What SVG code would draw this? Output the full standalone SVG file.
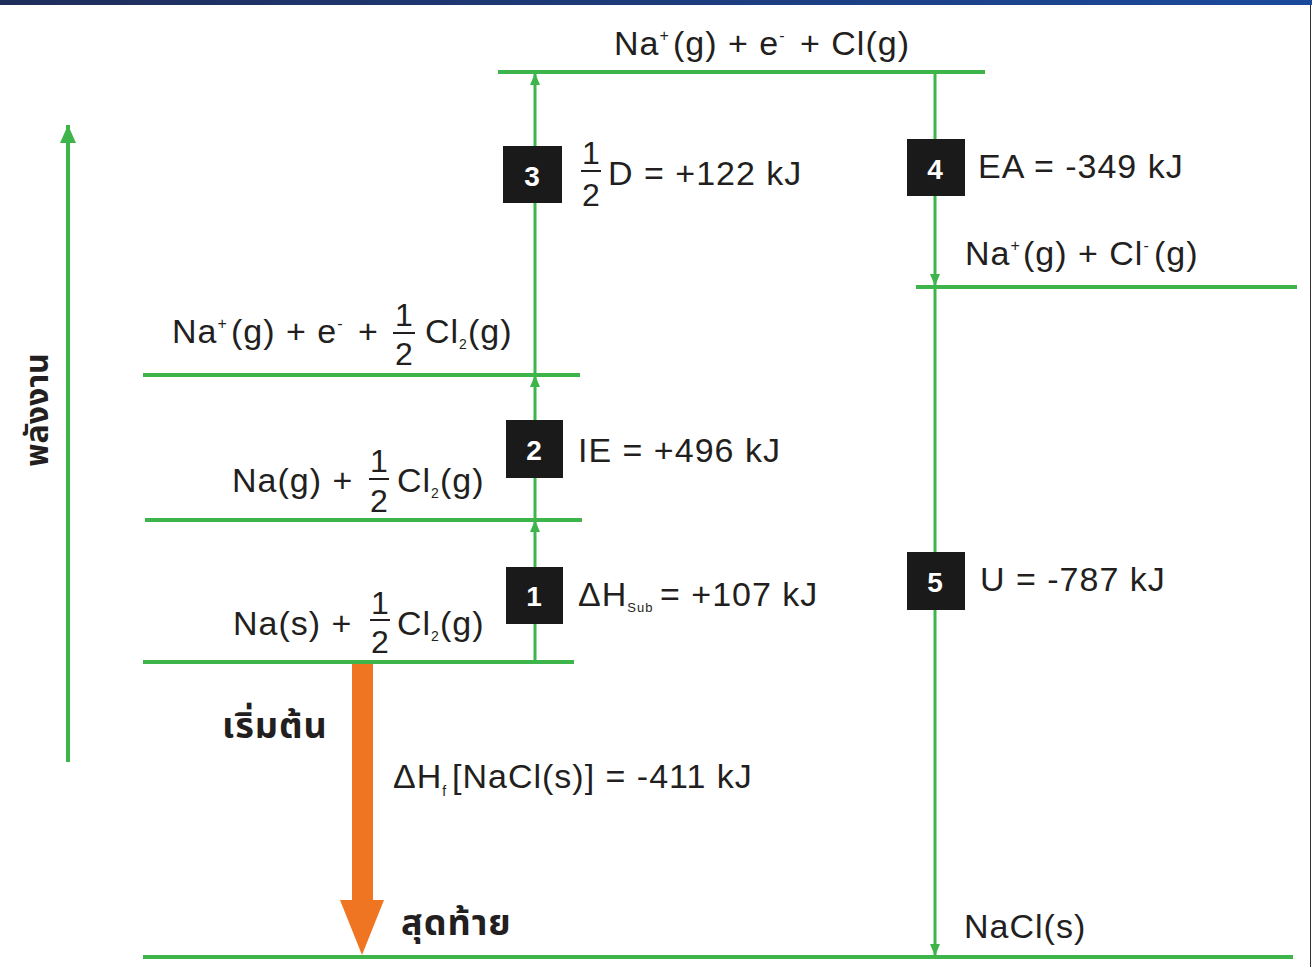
<svg xmlns="http://www.w3.org/2000/svg" width="1312" height="967" viewBox="0 0 1312 967">
<defs>
<linearGradient id="bar" x1="0" y1="0" x2="1" y2="0">
<stop offset="0" stop-color="#1f2d5a"/><stop offset="1" stop-color="#1b4a9c"/>
</linearGradient>
<marker id="ah" viewBox="0 0 12 10" refX="12" refY="5" markerWidth="12" markerHeight="10" markerUnits="userSpaceOnUse" orient="auto">
<path d="M0,0 L12,5 L0,10 z" fill="#3db54a"/>
</marker>
<marker id="ahBig" viewBox="0 0 18 16" refX="18" refY="8" markerWidth="18" markerHeight="16" markerUnits="userSpaceOnUse" orient="auto">
<path d="M0,0 L18,8 L0,16 z" fill="#3db54a"/>
</marker>
</defs>
<style>
.lvl{stroke:#3db54a;stroke-width:4;fill:none}
.con{stroke:#3db54a;stroke-width:3;fill:none}
.t{font-family:"Liberation Sans",Arial,sans-serif;font-size:34px;letter-spacing:1px;fill:#231f20}
.fr{font-family:"Liberation Sans",Arial,sans-serif;font-size:32px;fill:#231f20;text-anchor:middle}
.sm{font-size:16px}
.box{fill:#1a1a1a}
.bn{font-family:"Liberation Sans",Arial,sans-serif;font-size:28px;font-weight:bold;fill:#ffffff;text-anchor:middle}
.th{font-family:"Noto Sans Thai","Noto Sans","DejaVu Sans",sans-serif;font-size:36px;font-weight:bold;letter-spacing:1px;fill:#231f20}
.fb{stroke:#231f20;stroke-width:2}
</style>
<rect x="0" y="0" width="1312" height="5" fill="url(#bar)"/>
<line x1="1310.5" y1="5" x2="1310.5" y2="967" stroke="#333" stroke-width="1"/>

<g id="connectors">
<line class="con" x1="535" y1="662" x2="535" y2="520" marker-end="url(#ah)"/>
<line class="con" x1="535" y1="520" x2="535" y2="375" marker-end="url(#ah)"/>
<line class="con" x1="535" y1="375" x2="535" y2="73" marker-end="url(#ah)"/>
<line class="con" x1="935" y1="72" x2="935" y2="286" marker-end="url(#ah)"/>
<line class="con" x1="935" y1="287" x2="935" y2="956" marker-end="url(#ah)"/>
<line x1="68" y1="762" x2="68" y2="125" stroke="#3db54a" stroke-width="4" marker-end="url(#ahBig)"/>
<g id="formation-arrow">
<rect x="352" y="664" width="21" height="238" fill="#f07522"/>
<polygon points="340,900 384,900 362,955" fill="#f07522"/>
</g>
</g>

<g id="level-top">
<line class="lvl" x1="498" y1="72" x2="985" y2="72"/>
<text class="t" x="614" y="55">Na<tspan class="sm" dy="-14">+</tspan><tspan dy="14" x="673">(g) + e</tspan><tspan class="sm" dy="-14">-</tspan><tspan dy="14" x="800">+ Cl(g)</tspan></text>
</g>

<g id="level-ions">
<line class="lvl" x1="916" y1="287" x2="1297" y2="287"/>
<text class="t" x="965" y="265">Na<tspan class="sm" dy="-14">+</tspan><tspan dy="14" x="1023">(g) + Cl</tspan><tspan class="sm" dy="-14">-</tspan><tspan dy="14" x="1154">(g)</tspan></text>
</g>

<g id="level-na-ion">
<line class="lvl" x1="143" y1="375" x2="580" y2="375"/>
<text class="t" x="172" y="343">Na<tspan class="sm" dy="-14">+</tspan><tspan dy="14" x="231">(g) + e</tspan><tspan class="sm" dy="-14">-</tspan><tspan dy="14" x="358">+</tspan></text>
<text class="fr" x="404" y="326">1</text>
<line class="fb" x1="393" y1="333" x2="415" y2="333"/>
<text class="fr" x="404" y="365">2</text>
<text class="t" x="425" y="343">Cl<tspan font-size="14" dy="6">2</tspan><tspan dy="-6">(g)</tspan></text>
</g>

<g id="level-na-gas">
<line class="lvl" x1="145" y1="520" x2="582" y2="520"/>
<text class="t" x="232" y="492">Na(g) +</text>
<text class="fr" x="379" y="472">1</text>
<line class="fb" x1="369" y1="479" x2="389" y2="479"/>
<text class="fr" x="379" y="512">2</text>
<text class="t" x="397" y="492">Cl<tspan font-size="14" dy="6">2</tspan><tspan dy="-6">(g)</tspan></text>
</g>

<g id="level-na-solid">
<line class="lvl" x1="143" y1="662" x2="574" y2="662"/>
<text class="t" x="233" y="635">Na(s) +</text>
<text class="fr" x="380" y="614">1</text>
<line class="fb" x1="370" y1="620" x2="390" y2="620"/>
<text class="fr" x="380" y="653">2</text>
<text class="t" x="397" y="635">Cl<tspan font-size="14" dy="6">2</tspan><tspan dy="-6">(g)</tspan></text>
</g>

<g id="level-nacl">
<line class="lvl" x1="143" y1="957" x2="1293" y2="957"/>
<text class="t" x="964" y="938">NaCl(s)</text>
</g>

<g id="step-1">
<rect class="box" x="506" y="567" width="57" height="57"/>
<text class="bn" x="534" y="606">1</text>
<text class="t" x="578" y="606">ΔH<tspan font-size="13" dy="6">Sub</tspan><tspan dy="-6" x="660">= +107 kJ</tspan></text>
</g>

<g id="step-2">
<rect class="box" x="506" y="420" width="57" height="58"/>
<text class="bn" x="534" y="460">2</text>
<text class="t" x="578" y="462">IE = +496 kJ</text>
</g>

<g id="step-3">
<rect class="box" x="503" y="146" width="59" height="57"/>
<text class="bn" x="532" y="186">3</text>
<text class="fr" x="591" y="164">1</text>
<line class="fb" x1="581" y1="171" x2="601" y2="171"/>
<text class="fr" x="591" y="206">2</text>
<text class="t" x="608" y="185">D = +122 kJ</text>
</g>

<g id="step-4">
<rect class="box" x="907" y="139" width="58" height="57"/>
<text class="bn" x="935" y="179">4</text>
<text class="t" x="978" y="178">EA = -349 kJ</text>
</g>

<g id="step-5">
<rect class="box" x="907" y="552" width="58" height="58"/>
<text class="bn" x="935" y="592">5</text>
<text class="t" x="980" y="591">U = -787 kJ</text>
</g>

<g id="formation-label">
<text class="t" x="393" y="788">ΔH<tspan font-size="14" dy="8">f</tspan><tspan dy="-8" x="452">[NaCl(s)] = -411 kJ</tspan></text>
<text class="th" x="222" y="738">เริ่มต้น</text>
<text class="th" x="401" y="935">สุดท้าย</text>
</g>

<g id="energy-axis">
<text class="th" style="font-size:32px;letter-spacing:0" transform="translate(48,410) rotate(-90)" text-anchor="middle">พลังงาน</text>
</g>
</svg>
